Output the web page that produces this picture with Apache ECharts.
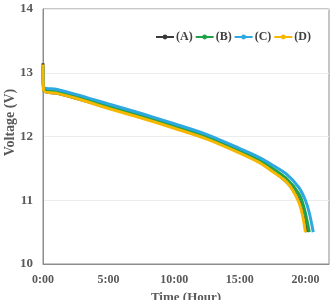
<!DOCTYPE html>
<html><head><meta charset="utf-8">
<script src="https://cdn.jsdelivr.net/npm/echarts@6/dist/echarts.min.js"></script>
<style>html,body{margin:0;padding:0;background:#fff}#c{width:335px;height:300px}</style>
</head><body><div id="c"></div>
<script>
const seriesNames = ['(A)', '(B)', '(C)', '(D)'];
const xTickLabels = ['0:00', '5:00', '10:00', '15:00', '20:00'];
const yTickLabels = [10, 11, 12, 13, 14];
// time in hours, voltage in V
const timeA = [0, 0.05, 1, 2.5, 5, 7.5, 10, 12.5, 15, 16.5, 17.5, 18.5, 19.0, 19.5, 19.8, 20.1];
const voltA = [13.15, 12.72, 12.68, 12.6, 12.45, 12.3, 12.15, 11.97, 11.75, 11.6, 11.46, 11.3, 11.18, 11.0, 10.8, 10.5];
const timeB = [0, 0.05, 1, 2.5, 5, 7.5, 10, 12.5, 15, 16.5, 17.5, 18.5, 19.5, 19.9, 20.3];
const voltB = [13.1, 12.75, 12.71, 12.63, 12.48, 12.33, 12.17, 12.0, 11.78, 11.63, 11.5, 11.35, 11.1, 10.88, 10.5];
const timeC = [0, 0.05, 1, 2.5, 5, 7.5, 10, 12.5, 15, 16.5, 17.5, 18.5, 19.5, 20.0, 20.3, 20.6];
const voltC = [13.1, 12.78, 12.74, 12.66, 12.51, 12.36, 12.2, 12.03, 11.81, 11.67, 11.55, 11.42, 11.2, 11.0, 10.8, 10.5];
const timeD = [0, 0.05, 1, 2.5, 5, 7.5, 10, 12.5, 15, 16.5, 17.5, 18.5, 19.0, 19.5, 19.8, 20.0];
const voltD = [13.13, 12.72, 12.68, 12.6, 12.44, 12.29, 12.13, 11.96, 11.74, 11.59, 11.45, 11.3, 11.17, 10.97, 10.75, 10.5];
const colors = ['#3a3a3a', '#1fa34a', '#2ea8e0', '#f5b700'];

const times = [timeA, timeB, timeC, timeD];
const volts = [voltA, voltB, voltC, voltD];
const font = 'Liberation Serif';
const chart = echarts.init(document.getElementById('c'));
chart.setOption({
  animation: false,
  color: colors,
  grid: {left: 43, right: 6, top: 9, bottom: 36, containLabel: false, outerBoundsMode: 'none',
    show: true, borderColor: '#8c8c8c', borderWidth: 1, backgroundColor: 'transparent'},
  legend: {
    top: 26, left: 150, itemWidth: 18, itemHeight: 6, itemGap: 2,
    textStyle: {fontFamily: font, fontWeight: 'bold', fontSize: 12, color: '#404040', padding: [0,0,0,-3]},
    data: seriesNames
  },
  xAxis: {
    type: 'value', min: 0, max: 21.8, interval: 5,
    name: 'Time (Hour)', nameLocation: 'middle', nameGap: 27, nameMoveOverlap: false,
    nameTextStyle: {fontFamily: font, fontWeight: 'bold', fontSize: 13, color: '#595959'},
    axisLine: {lineStyle: {color: '#8c8c8c', width: 1}},
    axisTick: {show: false},
    splitLine: {show: false},
    axisLabel: {fontFamily: font, fontWeight: 'bold', fontSize: 12, color: '#595959', margin: 10,
      formatter: v => { const i = Math.round(v / 5); return (Math.abs(v - i * 5) < 1e-6 && xTickLabels[i]) ? xTickLabels[i] : ''; }}
  },
  yAxis: {
    type: 'value', min: yTickLabels[0], max: yTickLabels[yTickLabels.length - 1], interval: 1,
    name: 'Voltage (V)', nameLocation: 'middle', nameGap: 26, nameMoveOverlap: false,
    nameTextStyle: {fontFamily: font, fontWeight: 'bold', fontSize: 14, color: '#595959', padding: [0, 0, 0, 28]},
    axisLine: {show: true, lineStyle: {color: '#8c8c8c', width: 1}},
    axisTick: {show: false},
    splitLine: {show: true, lineStyle: {color: '#ececec'}},
    axisLabel: {fontFamily: font, fontWeight: 'bold', fontSize: 13, color: '#595959', margin: 10}
  },
  series: seriesNames.map((n, k) => ({
    name: n, type: 'line', smooth: 0.3,
    symbol: 'circle', symbolSize: 4, showSymbol: false,
    lineStyle: {width: 3, color: colors[k]},
    itemStyle: {color: colors[k]},
    data: times[k].map((t, i) => [t, volts[k][i]])
  }))
});
</script></body></html>
